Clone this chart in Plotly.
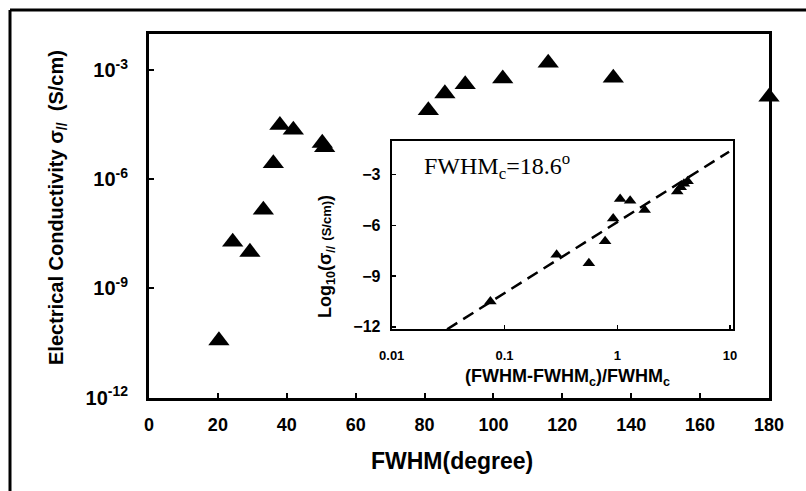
import plotly.graph_objects as go

W, H = 806, 491

# ---- main data: FWHM (degree) vs conductivity (S/cm)
fwhm = [20.3, 24.3, 29.3, 33.2, 36.1, 38.0, 41.9, 50.3, 51.0, 81.1, 85.9, 91.8, 102.7, 115.9, 134.8, 180.0]
sigma = [3.7e-11, 1.9e-8, 1.0e-8, 1.45e-7, 2.75e-6, 3.1e-5, 2.3e-5, 1.0e-5, 7.6e-6,
         7.9e-5, 2.3e-4, 4.1e-4, 5.9e-4, 1.6e-3, 6.2e-4, 1.86e-4]

x_ticks = [0, 20, 40, 60, 80, 100, 120, 140, 160, 180]
y_tickvals = [1e-12, 1e-9, 1e-6, 1e-3]
y_ticktext = ["10<sup>-12</sup>", "10<sup>-9</sup>", "10<sup>-6</sup>", "10<sup>-3</sup>"]

# ---- inset data: reduced FWHM vs log10 conductivity
red_fwhm = [0.075, 0.29, 0.56, 0.78, 0.92, 1.06, 1.30, 1.75, 3.4, 3.65, 3.9, 4.2]
log_sigma = [-10.5, -7.75, -8.25, -6.95, -5.6, -4.45, -4.55, -5.1, -4.0, -3.75, -3.55, -3.4]
fit_x = [0.031, 9.8]
fit_y = [-12.15, -1.65]
inset_xticks = [0.01, 0.1, 1, 10]
inset_xtext = ["0.01", "0.1", "1", "10"]
inset_yticks = [-3, -6, -9, -12]

SANS = "Liberation Sans, Arial, sans-serif"
SERIF = "Liberation Serif, Times New Roman, serif"

def px(x):
    return x / W

def py(y):
    return 1 - y / H

fig = go.Figure()

fig.add_trace(go.Scatter(
    x=fwhm, y=sigma, mode="markers", xaxis="x", yaxis="y",
    marker=dict(symbol="triangle-up", size=18.5, color="black", line=dict(width=0)),
    cliponaxis=False, showlegend=False))

fig.add_trace(go.Scatter(
    x=fit_x, y=fit_y, mode="lines", xaxis="x2", yaxis="y2",
    line=dict(color="black", width=2.5, dash="12px,7px"),
    cliponaxis=False, showlegend=False))

fig.add_trace(go.Scatter(
    x=red_fwhm, y=log_sigma, mode="markers", xaxis="x2", yaxis="y2",
    marker=dict(symbol="triangle-up", size=11, color="black", line=dict(width=0)),
    cliponaxis=False, showlegend=False))

fig.update_layout(
    width=W, height=H,
    margin=dict(l=0, r=0, t=0, b=0, pad=0),
    paper_bgcolor="white", plot_bgcolor="rgba(0,0,0,0)",
    hovermode=False,
    xaxis=dict(
        domain=[px(149), px(769)], range=[0, 180], anchor="y", automargin=False,
        tickvals=x_ticks, ticks="inside", ticklen=5, tickwidth=2, tickcolor="black",
        showline=True, linewidth=3, linecolor="black", mirror=True,
        showgrid=False, zeroline=False, ticklabelstandoff=9,
        tickfont=dict(family=SANS, size=18, color="black", weight="bold")),
    yaxis=dict(
        domain=[py(397.5), py(34)], type="log", range=[-12, -2], anchor="x", automargin=False,
        tickvals=y_tickvals, ticktext=y_ticktext,
        ticks="inside", ticklen=5, tickwidth=2, tickcolor="black",
        showline=True, linewidth=3, linecolor="black", mirror=True,
        showgrid=False, zeroline=False, ticklabelstandoff=14,
        tickfont=dict(family=SANS, size=20, color="black", weight="bold")),
    xaxis2=dict(
        domain=[px(391.7), px(733)], type="log", range=[-2, 1.026], anchor="y2", automargin=False,
        tickvals=inset_xticks, ticktext=inset_xtext,
        ticks="inside", ticklen=4, tickwidth=1.5, tickcolor="black",
        showline=True, linewidth=2, linecolor="black", mirror=True,
        showgrid=False, zeroline=False, ticklabelstandoff=13,
        tickfont=dict(family=SANS, size=13, color="black", weight="bold")),
    yaxis2=dict(
        domain=[py(329.3), py(140.7)], range=[-12.15, -1.0], anchor="x2", automargin=False,
        tickvals=inset_yticks,
        ticks="inside", ticklen=4, tickwidth=1.5, tickcolor="black",
        showline=True, linewidth=2, linecolor="black", mirror=True,
        showgrid=False, zeroline=False, ticklabelstandoff=6,
        tickfont=dict(family=SANS, size=16, color="black", weight="bold")),
    shapes=[
        dict(type="line", xref="paper", yref="paper", x0=px(10), x1=px(10), y0=0, y1=py(10),
             line=dict(color="black", width=3)),
        dict(type="line", xref="paper", yref="paper", x0=px(10), x1=1, y0=py(10), y1=py(10),
             line=dict(color="black", width=3)),
    ],
    annotations=[
        dict(xref="paper", yref="paper", x=px(452), y=py(461), showarrow=False,
             text="FWHM(degree)", xanchor="center", yanchor="middle",
             font=dict(family=SANS, size=23, color="black", weight="bold")),
        dict(xref="paper", yref="paper", x=px(57), y=py(208), showarrow=False, textangle=-90,
             text="Electrical Conductivity σ<sub>//</sub>  (S/cm)", xanchor="center", yanchor="middle",
             font=dict(family=SANS, size=20, color="black", weight="bold")),
        dict(xref="paper", yref="paper", x=px(567), y=py(377), showarrow=False,
             text="(FWHM-FWHM<sub>c</sub>)/FWHM<sub>c</sub>", xanchor="center", yanchor="middle",
             font=dict(family=SANS, size=18, color="black", weight="bold")),
        dict(xref="paper", yref="paper", x=px(326), y=py(257), showarrow=False, textangle=-90,
             text="Log<sub>10</sub>(σ<sub>//</sub> <span style='font-size:13px'>(S/cm)</span>)",
             xanchor="center", yanchor="middle",
             font=dict(family=SANS, size=18, color="black", weight="bold")),
        dict(xref="paper", yref="paper", x=px(497), y=py(166), showarrow=False,
             text="FWHM<sub>c</sub>=18.6<sup>o</sup>", xanchor="center", yanchor="middle",
             font=dict(family=SERIF, size=24, color="black")),
    ],
)

fig.write_html("out.html", config={"displayModeBar": False, "staticPlot": True},
               post_script="document.body.style.margin='0px';document.body.style.overflow='hidden';")
